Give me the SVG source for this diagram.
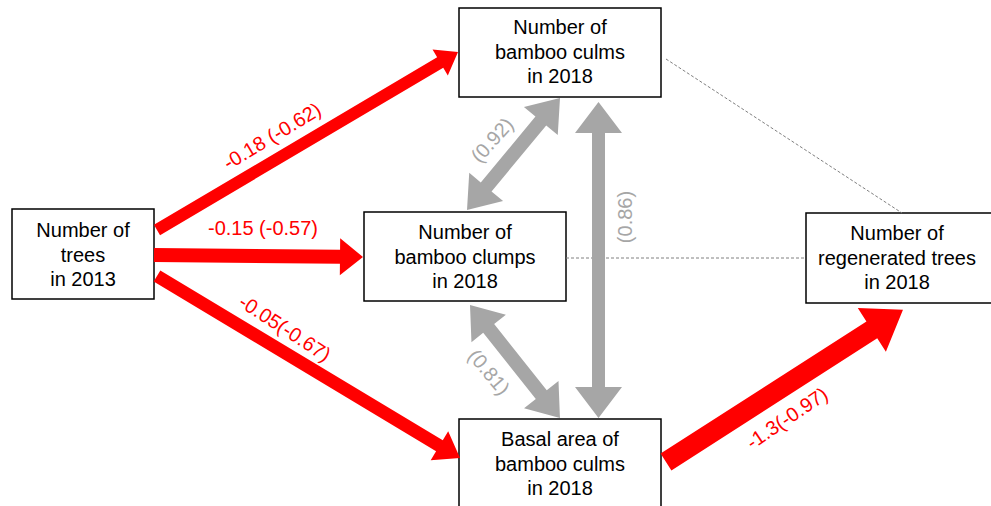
<svg xmlns="http://www.w3.org/2000/svg" width="991" height="506" viewBox="0 0 991 506">
<style>
.box{fill:#fff;stroke:#000;stroke-width:1.5}
.t{font-family:"Liberation Sans",Arial,sans-serif;font-size:20px;fill:#000;text-anchor:middle}
.rl{font-family:"Liberation Sans",Arial,sans-serif;font-size:20px;fill:#ff0000;text-anchor:middle}
.gl{font-family:"Liberation Sans",Arial,sans-serif;font-size:20px;fill:#a6a6a6;text-anchor:middle}
.red{fill:#ff0000}
.gray{fill:#a6a6a6}
.dash{stroke:#808080;stroke-width:1;stroke-dasharray:3 2;fill:none}
</style>
<rect width="991" height="506" fill="#fff"/>
<g id="trees2013">
<rect class="box" x="12" y="209" width="142" height="90"/>
<text class="t" x="83" y="237">Number of</text>
<text class="t" x="83" y="261.5">trees</text>
<text class="t" x="83" y="286">in 2013</text>
</g>
<g id="culms2018">
<rect class="box" x="459" y="8" width="202" height="89"/>
<text class="t" x="560" y="34">Number of</text>
<text class="t" x="560" y="58.5">bamboo culms</text>
<text class="t" x="560" y="83">in 2018</text>
</g>
<g id="clumps2018">
<rect class="box" x="364" y="212" width="202" height="89"/>
<text class="t" x="465" y="239">Number of</text>
<text class="t" x="465" y="263.5">bamboo clumps</text>
<text class="t" x="465" y="288">in 2018</text>
</g>
<g id="basal2018">
<rect class="box" x="459" y="419" width="202" height="95"/>
<text class="t" x="560" y="446">Basal area of</text>
<text class="t" x="560" y="470.5">bamboo culms</text>
<text class="t" x="560" y="495">in 2018</text>
</g>
<g id="regen2018">
<rect class="box" x="806" y="213" width="190" height="90"/>
<text class="t" x="897" y="240">Number of</text>
<text class="t" x="897" y="264.5">regenerated trees</text>
<text class="t" x="897" y="289">in 2018</text>
</g>
<g id="connectors">
<line class="dash" x1="666" y1="59" x2="902" y2="213"/>
<line class="dash" x1="566" y1="258" x2="806" y2="258"/>
<!-- red paths -->
<polygon class="red" transform="translate(157,230) rotate(-30.6)" points="0,-6 329,-6 329,-15 349.7,0 329,15 329,6 0,6"/>
<polygon class="red" transform="translate(154,255) rotate(0.55)" points="0,-7 186,-7 186,-18.5 209,0 186,18.5 186,7 0,7"/>
<polygon class="red" transform="translate(157,276) rotate(31)" points="0,-6.5 329.5,-6.5 329.5,-17 353.5,0 329.5,17 329.5,6.5 0,6.5"/>
<polygon class="red" transform="translate(666,462) rotate(-32.7)" points="0,-10 244.6,-10 244.6,-26 281.6,0 244.6,26 244.6,10 0,10"/>
<!-- gray correlations -->
<polygon class="gray" transform="translate(467,210) rotate(-50.3)" points="0,0 30,-22 30,-7 115.6,-7 115.6,-22 145.6,0 115.6,22 115.6,7 30,7 30,22"/>
<polygon class="gray" transform="translate(598.5,102) rotate(90)" points="0,0 31,-23.5 31,-6.5 285,-6.5 285,-23.5 316,0 285,23.5 285,6.5 31,6.5 31,23.5"/>
<polygon class="gray" transform="translate(470,305) rotate(51.5)" points="0,0 30,-22 30,-7 114.5,-7 114.5,-22 144.5,0 114.5,22 114.5,7 30,7 30,22"/>
<!-- labels -->
<text class="rl" transform="translate(272,136) rotate(-31)" x="0" y="7">-0.18 (-0.62)</text>
<text class="rl" x="263" y="235">-0.15 (-0.57)</text>
<text class="rl" transform="translate(285,328) rotate(33)" x="0" y="7">-0.05(-0.67)</text>
<text class="rl" transform="translate(787,418) rotate(-34)" x="0" y="7">-1.3(-0.97)</text>
<text class="gl" transform="translate(492,140) rotate(-48)" x="0" y="7">(0.92)</text>
<text class="gl" transform="translate(625,217) rotate(-90)" x="0" y="7">(0.86)</text>
<text class="gl" transform="translate(489,372) rotate(50)" x="0" y="7">(0.81)</text>
</g>
</svg>
